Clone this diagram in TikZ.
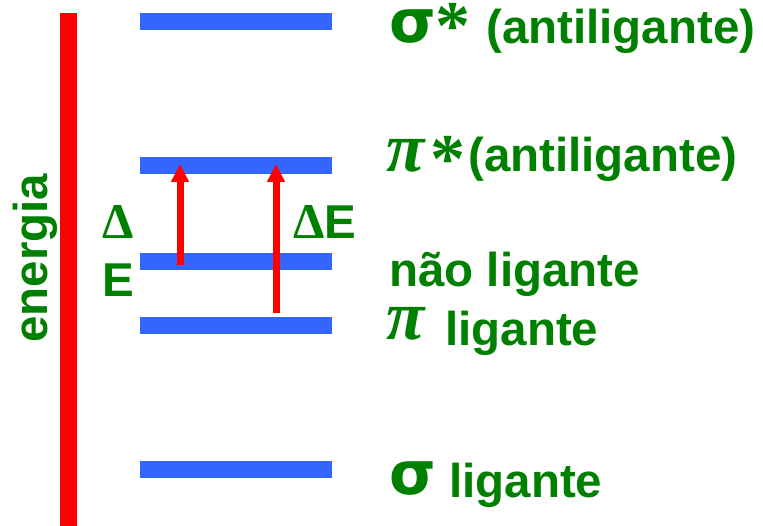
\documentclass[tikz,border=0pt]{standalone}
\usepackage{fontspec}
\setmainfont{Liberation Sans}
\newfontfamily\grk{Liberation Serif}
\newfontfamily\grks{DejaVu Sans}
\usetikzlibrary{arrows.meta}
\definecolor{lvlblue}{RGB}{51,102,255}
\definecolor{lblgreen}{RGB}{0,128,0}
\definecolor{axisred}{RGB}{255,0,0}
\begin{document}
\begin{tikzpicture}[x=1pt,y=-1pt,
  lvl/.style={rectangle, fill=lvlblue, inner sep=0pt, minimum width=192pt, minimum height=17pt},
  lbl/.style={inner sep=0pt, text=lblgreen, font=\fontsize{47.5}{57}\selectfont\bfseries, anchor=base west},
  gk/.style={inner sep=0pt, text=lblgreen, text height=0.5em, text depth=0pt, font=\fontsize{60}{70}\selectfont\grks\bfseries, anchor=base west},
  gkpi/.style={gk, font=\fontsize{70}{80}\selectfont\grk\bfseries\itshape},
  ast/.style={inner sep=0pt, text=lblgreen, text height=0.66em, text depth=0pt, font=\fontsize{70}{76}\selectfont\grk\bfseries, anchor=base west},
  trans/.style={draw=axisred, line width=7pt, -{Triangle[width=17pt,length=18pt]}}]
\useasboundingbox (0,0) rectangle (763,526);
% energy axis
\node[rectangle, fill=axisred, inner sep=0pt, minimum width=17pt, minimum height=513pt] (axis) at (68.5,269.5) {};
\node[lbl, rotate=90] (energia) at (47,343) {energia};
% levels
\node[lvl] (sigstar) at (236,21.5) {};
\node[lvl] (pistar) at (236,165.5) {};
\node[lvl] (nonb) at (236,261.5) {};
\node[lvl] (pib) at (236,325.5) {};
\node[lvl] (sigb) at (236,469.5) {};
% transitions
\coordinate (t1s) at (180,265);
\coordinate (t1e) at (180,164);
\coordinate (t2s) at (276,313);
\coordinate (t2e) at (276,164);
\draw[trans] (t1s) -- (t1e);
\draw[trans] (t2s) -- (t2e);
% Delta E labels
\node[lbl, font=\fontsize{50}{57}\selectfont\grk\bfseries] (dl) at (102,239) {Δ};
\node[lbl] (el) at (102.5,297) {E};
\node[lbl] (der) at (293,239) {{\fontsize{50}{57}\selectfont\grk\bfseries Δ}E};
% level labels
\node[gk] (g1) at (389,43) {σ};
\node[ast] (a1) at (435,50) {*};
\node[lbl] (l1) at (486,44) {(antiligante)};
\node[gkpi] (g2) at (386,172) {π};
\node[ast] (a2) at (430,183) {*};
\node[lbl] (l2) at (468,172) {(antiligante)};
\node[lbl] (l3) at (389,287) {não ligante};
\node[gkpi] (g4) at (386,340) {π};
\node[lbl] (l4) at (445,346) {ligante};
\node[gk] (g5) at (389,494) {σ};
\node[lbl] (l5) at (449,497) {ligante};
\end{tikzpicture}
\end{document}
